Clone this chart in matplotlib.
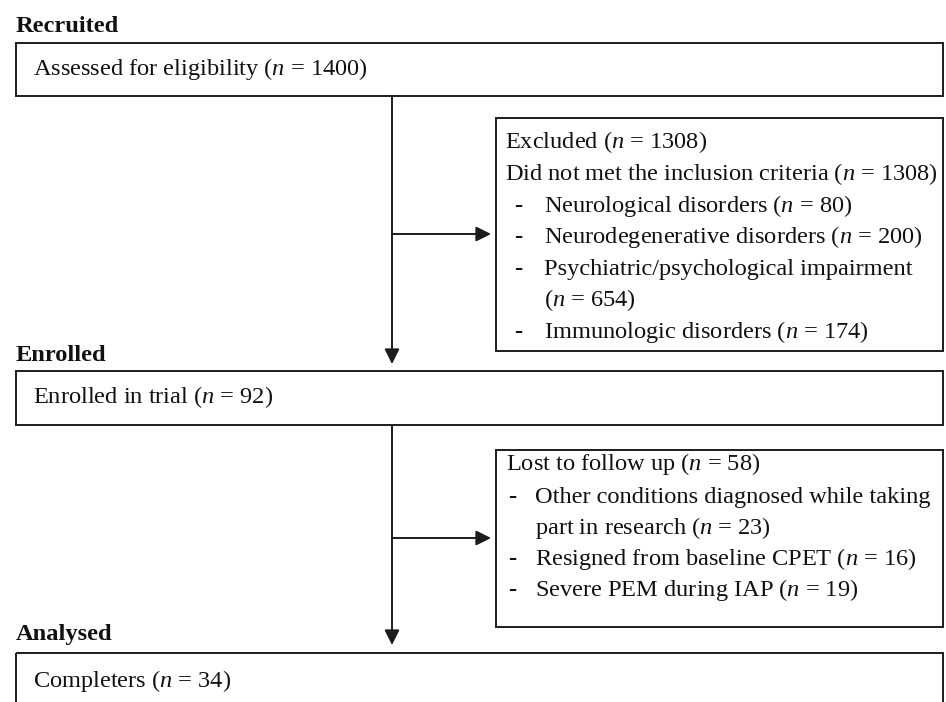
import matplotlib
matplotlib.use("Agg")
import matplotlib.pyplot as plt
from matplotlib.patches import Rectangle

plt.rcParams['font.family'] = ['Liberation Serif', 'DejaVu Serif']
plt.rcParams['mathtext.fontset'] = 'custom'
plt.rcParams['mathtext.rm'] = 'Liberation Serif'
plt.rcParams['mathtext.it'] = 'Liberation Serif:italic'
plt.rcParams['mathtext.bf'] = 'Liberation Serif:bold'

# ---------------- data ----------------
stage_labels = ["Recruited", "Enrolled", "Analysed"]
main_labels = ["Assessed for eligibility", "Enrolled in trial", "Completers"]
main_counts = [1400, 92, 34]

excluded_total = 1308
excluded_header = ["Excluded", "Did not met the inclusion criteria"]
excluded_items = [["Neurological disorders"],
                  ["Neurodegenerative disorders"],
                  ["Psychiatric/psychological impairment", ""],
                  ["Immunologic disorders"]]
excluded_counts = [80, 200, 654, 174]

lost_total = 58
lost_header = "Lost to follow up"
lost_items = [["Other conditions diagnosed while taking", "part in research"],
              ["Resigned from baseline CPET"],
              ["Severe PEM during IAP"]]
lost_counts = [23, 16, 19]


def nlab(v):
    return "($n$ = %d)" % v


# ---------------- drawing ----------------
W, H = 946, 702
fig = plt.figure(figsize=(W / 100, H / 100), dpi=100)
ax = fig.add_axes([0, 0, 1, 1])
ax.set_xlim(0, W)
ax.set_ylim(H, 0)
ax.axis('off')

FS = 17.6
LW = 1.4
EC = '#1c1c1c'
TC = '#111111'

def box(x0, y0, x1, y1):
    ax.add_patch(Rectangle((x0, y0), x1 - x0, y1 - y0, fill=False,
                           lw=LW, ec=EC, clip_on=True))

def txt(x, y, s, **kw):
    ax.text(x, y, s, fontsize=FS, color=TC, va='baseline', ha='left', **kw)

def dash(x, y):
    ax.text(x, y, "-", fontsize=FS, color=TC, va='baseline', ha='left',
            fontweight='bold')

def arrow(x0, y0, x1, y1):
    ax.annotate('', xy=(x1, y1), xytext=(x0, y0),
                arrowprops=dict(arrowstyle='-|>,head_length=0.6,head_width=0.3',
                                mutation_scale=15, lw=LW, color=EC,
                                shrinkA=0, shrinkB=0))

# main boxes
main_boxes = [(16, 43, 943, 96), (16, 371, 943, 425), (16, 653, 943, 740)]
stage_base = [32, 361, 640]
text_base = [75, 403, 687]
for (x0, y0, x1, y1), lab, cnt, sl, sb, tb in zip(main_boxes, main_labels, main_counts,
                                                  stage_labels, stage_base, text_base):
    box(x0, y0, x1, y1)
    txt(16, sb, sl, fontweight='bold')
    txt(33, tb, lab + " " + nlab(cnt))

# vertical flow lines
vx = 392
arrow(vx, 96, vx, 364)
arrow(vx, 425, vx, 645)

# excluded box
box(496, 118, 943, 351)
arrow(vx, 234, 491, 234)
eb = 148.5
step = 31.6
txt(505, eb, excluded_header[0] + " " + nlab(excluded_total))
txt(505, eb + step, excluded_header[1] + " " + nlab(excluded_total))
row = 2
for lines, c in zip(excluded_items, excluded_counts):
    dash(514, eb + row * step)
    for j, ln in enumerate(lines):
        s = ln
        if j == len(lines) - 1:
            s = (ln + " " if ln else "") + nlab(c)
        txt(544, eb + row * step, s)
        row += 1

# lost box
box(496, 450, 943, 627)
arrow(vx, 538, 491, 538)
lb = 470
lstep = 31.0
txt(506, lb, lost_header + " " + nlab(lost_total))
row = 0
for lines, c in zip(lost_items, lost_counts):
    dash(508, lb + 33 + row * lstep)
    for j, ln in enumerate(lines):
        s = ln
        if j == len(lines) - 1:
            s = ln + " " + nlab(c)
        txt(535, lb + 33 + row * lstep, s)
        row += 1

fig.savefig("out.png", dpi=100, facecolor='white')
